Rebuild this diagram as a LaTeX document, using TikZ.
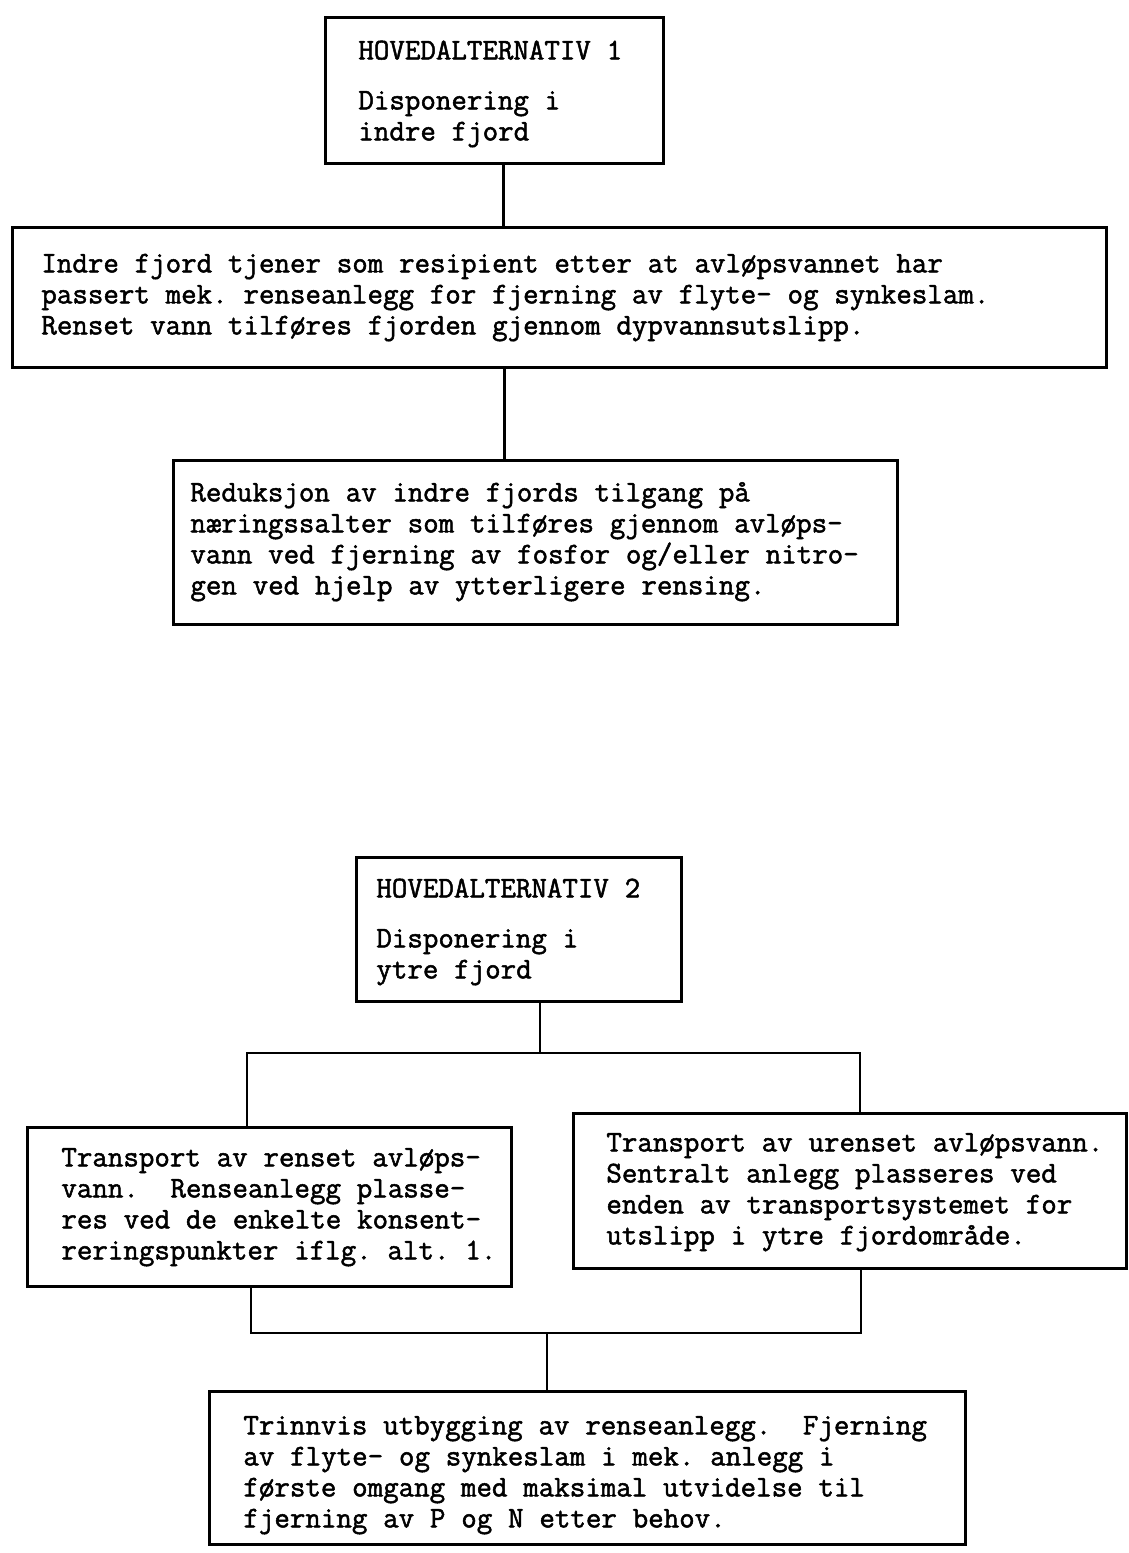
\documentclass[tikz,border=0pt]{standalone}
\usepackage{xcolor}
\usepackage{fontspec}
\usepackage{tikz}

% typewriter look: slightly heavier strokes
\newcommand{\typestrike}{\special{pdf:literal direct 2 Tr 0.5 w}}

\begin{document}
\begin{tikzpicture}[x=1pt,y=-1pt]
			\tikzstyle{box}=[draw, line width=2.8pt, anchor=north west, inner xsep=0pt, inner ysep=0pt, align=left, font=\ttfamily\fontsize{30.1}{31}\selectfont\frenchspacing]
			\tikzset{edge/.style = {-, line width=2.8pt}}
			
			\useasboundingbox (0,0) rectangle (1129,1553);
			
			% hovedalternativ 1
			\node[box, text width=338pt, text height=42pt, text depth=104pt, execute at begin node={\leftskip=33pt\spaceskip=.525em\typestrike}](alt1) at (324,16) {HOVEDALTERNATIV 1\\[19pt]Disponering i\\indre fjord};
			\node[box, text width=1094pt, text height=45pt, text depth=95pt, execute at begin node={\leftskip=29pt\spaceskip=.525em\typestrike}](resipient) at (11,226) {Indre fjord tjener som resipient etter at avløpsvannet har\\passert mek. renseanlegg for fjerning av flyte- og synkeslam.\\Renset vann tilføres fjorden gjennom dypvannsutslipp.};
			\node[box, text width=724pt, text height=41pt, text depth=123pt, execute at begin node={\leftskip=17pt\spaceskip=.525em\typestrike}](reduksjon) at (172,459) {Reduksjon av indre fjords tilgang på\\næringssalter som tilføres gjennom avløps-\\vann ved fjerning av fosfor og/eller nitro-\\gen ved hjelp av ytterligere rensing.};
			\draw[edge]([xshift=9pt]alt1.south) to ([xshift=9pt]alt1.south |- resipient.north);
			\draw[edge]([xshift=-55pt]resipient.south) to ([xshift=-55pt]resipient.south |- reduksjon.north);
			
			% hovedalternativ 2
			\node[box, text width=325pt, text height=40pt, text depth=104pt, execute at begin node={\leftskip=20pt\spaceskip=.525em\typestrike}](alt2) at (355,856) {HOVEDALTERNATIV 2\\[19pt]Disponering i\\ytre fjord};
			\node[box, text width=484pt, text height=39pt, text depth=120pt, execute at begin node={\leftskip=34pt\spaceskip=.525em\typestrike}](renset) at (26,1126) {Transport av renset avløps-\\vann.~~Renseanlegg plasse-\\res ved de enkelte konsent-\\reringspunkter iflg. alt. 1.};
			\node[box, text width=553pt, text height=38pt, text depth=117pt, execute at begin node={\leftskip=33pt\spaceskip=.525em\typestrike}](urenset) at (572,1112) {Transport av urenset avløpsvann.\\Sentralt anlegg plasseres ved\\enden av transportsystemet for\\utslipp i ytre fjordområde.};
			\node[box, text width=756pt, text height=43pt, text depth=110pt, execute at begin node={\leftskip=34pt\spaceskip=.525em\typestrike}](trinnvis) at (208,1390) {Trinnvis utbygging av renseanlegg.~~Fjerning\\av flyte- og synkeslam i mek. anlegg i\\første omgang med maksimal utvidelse til\\fjerning av P og N etter behov.};
			
			\coordinate (fork) at (540,1053);
			\coordinate (forkL) at (247,1053);
			\coordinate (forkR) at (860,1053);
			\draw[edge](alt2.south -| fork) to (fork);
			\draw[edge](renset.north -| forkL) -- (forkL) -- (forkR) -- (urenset.north -| forkR);
			
			\coordinate (join) at (547,1333);
			\coordinate (joinL) at (251,1333);
			\coordinate (joinR) at (861,1333);
			\draw[edge](renset.south -| joinL) -- (joinL) -- (joinR) -- (urenset.south -| joinR);
			\draw[edge](join) to (trinnvis.north -| join);
			
\end{tikzpicture}
\end{document}
